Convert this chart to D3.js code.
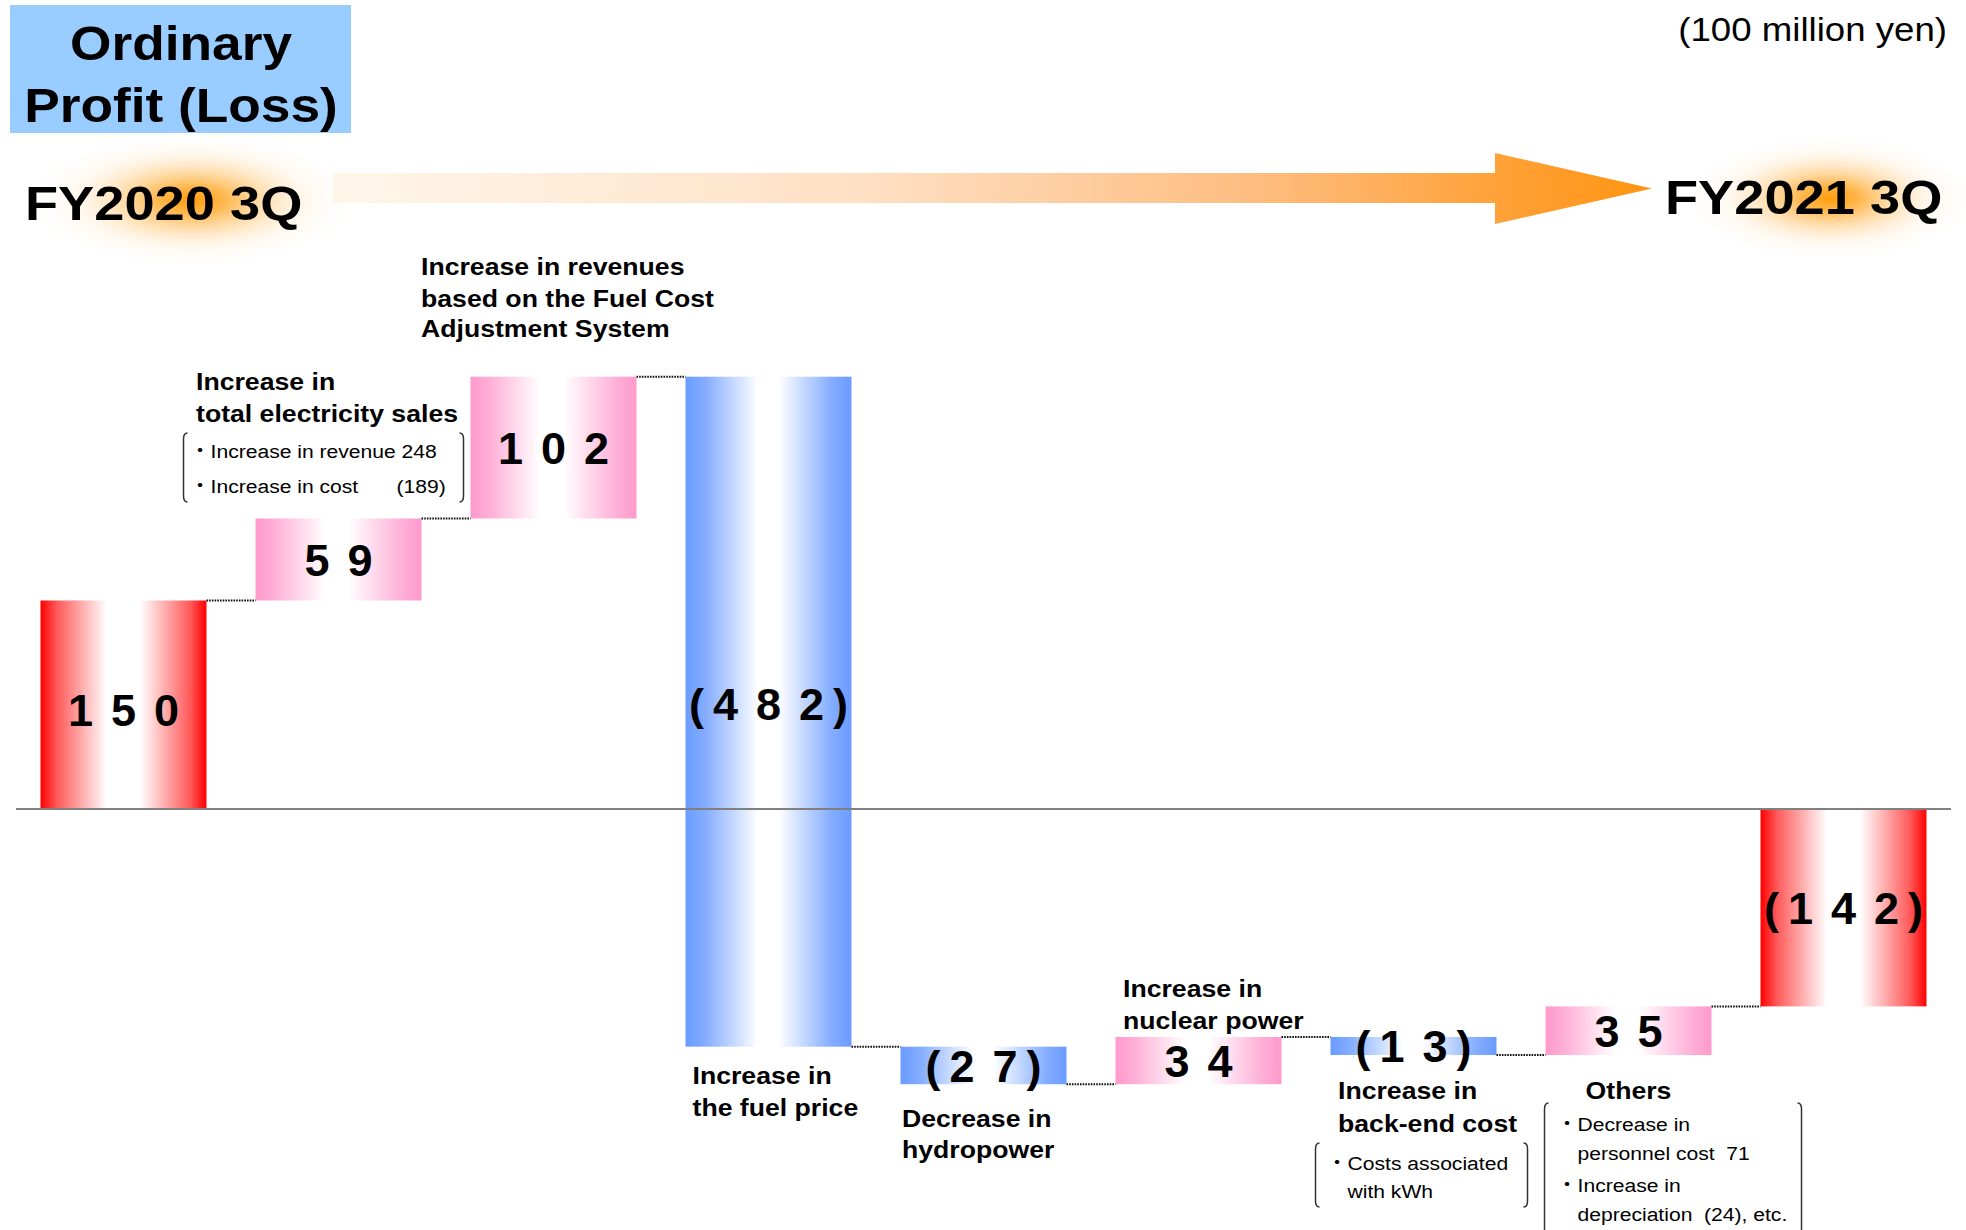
<!DOCTYPE html>
<html><head><meta charset="utf-8">
<script src="https://cdn.jsdelivr.net/npm/d3@7"></script>
<style>
html,body{margin:0;padding:0;background:#fff;}
svg{display:block;}
text{font-family:"Liberation Sans",Arial,"Noto Sans CJK JP",sans-serif;fill:#000;}
</style></head><body>
<svg id="chart" width="1966" height="1230"></svg>
<script>
// ---------------- data ----------------
const titleLines = ["Ordinary", "Profit (Loss)"];
const unitLabel = "(100 million yen)";
const startPeriod = "FY2020 3Q";
const endPeriod = "FY2021 3Q";
const categories = ["FY2020 3Q", "Total electricity sales", "Fuel Cost Adjustment System", "Fuel price", "Hydropower", "Nuclear power", "Back-end cost", "Others", "FY2021 3Q"];
const values = [150, 59, 102, -482, -27, 34, -13, 35, -142];
const barKinds = ["total", "increase", "increase", "decrease", "decrease", "increase", "decrease", "increase", "total"];
const categoryLabels = [
  [],
  ["Increase in", "total electricity sales"],
  ["Increase in revenues", "based on the Fuel Cost", "Adjustment System"],
  ["Increase in", "the fuel price"],
  ["Decrease in", "hydropower"],
  ["Increase in", "nuclear power"],
  ["Increase in", "back-end cost"],
  ["Others"],
  []
];
const salesNotes = ["・Increase in revenue 248", "・Increase in cost", "(189)"];
const backEndNotes = ["・Costs associated", "with kWh"];
const othersNotes = ["・Decrease in", "personnel cost  71", "・Increase in", "depreciation  (24), etc."];

// ---------------- layout ----------------
const W = 1966, H = 1230, SX = 1.11;
const svg = d3.select("#chart");
const defs = svg.append("defs");

const x = d3.scaleBand().domain(categories).range([16, 1951]).paddingInner(0.228).paddingOuter(0.114);
const y = d3.scaleLinear().domain([0, 150]).range([809, 600.5]);

// compute waterfall extents
let cum = 0;
const bars = values.map((v, i) => {
  let start, end;
  if (barKinds[i] === "total") { start = 0; end = v; cum = v; }
  else { start = cum; end = cum + v; cum = end; }
  return { cat: categories[i], v, kind: barKinds[i], start, end, cum, i };
});

// gradients
function hGrad(id, stops) {
  const g = defs.append("linearGradient").attr("id", id).attr("x1", 0).attr("x2", 1).attr("y1", 0).attr("y2", 0);
  stops.forEach(s => g.append("stop").attr("offset", s[0]).attr("stop-color", s[1]));
}
hGrad("gTotal", [[0, "#FF0000"], [0.1, "#FF5A5A"], [0.4, "#FFFFFF"], [0.6, "#FFFFFF"], [0.9, "#FF5A5A"], [1, "#FF0000"]]);
hGrad("gInc", [[0, "#FF99CC"], [0.12, "#FFB0D7"], [0.42, "#FFFFFF"], [0.56, "#FFFFFF"], [0.88, "#FFB0D7"], [1, "#FF99CC"]]);
hGrad("gDec", [[0, "#6A9BFF"], [0.12, "#84ADFF"], [0.44, "#FFFFFF"], [0.56, "#FFFFFF"], [0.88, "#84ADFF"], [1, "#6A9BFF"]]);
const fillFor = { total: "url(#gTotal)", increase: "url(#gInc)", decrease: "url(#gDec)" };

const arrowGrad = defs.append("linearGradient").attr("id", "gArrow").attr("gradientUnits", "userSpaceOnUse")
  .attr("x1", 333).attr("x2", 1652).attr("y1", 0).attr("y2", 0);
[[0, "#FFF6EA"], [0.4, "#FEE0C4"], [0.7, "#FEBD80"], [0.88, "#FFA23A"], [1, "#FF9410"]]
  .forEach(s => arrowGrad.append("stop").attr("offset", s[0]).attr("stop-color", s[1]));

const glow = defs.append("radialGradient").attr("id", "gGlow");
[[0, "#FF9900", 0.95], [0.18, "#FFA21A", 0.8], [0.42, "#FFB850", 0.45], [0.68, "#FFDAA8", 0.18], [1, "#FFFFFF", 0]]
  .forEach(s => glow.append("stop").attr("offset", s[0]).attr("stop-color", s[1]).attr("stop-opacity", s[2]));

// text helper (horizontally stretched, real text)
function txt(str, tx, ty, size, weight, anchor, sx) {
  return svg.append("text")
    .attr("transform", `translate(${tx},${ty}) scale(${sx === undefined ? SX : sx},1)`)
    .attr("text-anchor", anchor || "start")
    .style("font-size", size + "px")
    .style("font-weight", weight || "normal")
    .style("white-space", "pre")
    .text(str);
}

// ---------------- header ----------------
svg.append("rect").attr("x", 10).attr("y", 5).attr("width", 341).attr("height", 128).attr("fill", "#99CCFF");
txt(titleLines[0], 181, 60, 48, "bold", "middle");
txt(titleLines[1], 181, 122, 48, "bold", "middle");
txt(unitLabel, 1947, 41, 33, "normal", "end");

svg.append("ellipse").attr("cx", 192).attr("cy", 200).attr("rx", 170).attr("ry", 70).attr("fill", "url(#gGlow)");
svg.append("ellipse").attr("cx", 1830).attr("cy", 198).attr("rx", 150).attr("ry", 66).attr("fill", "url(#gGlow)");
svg.append("path").attr("d", "M333,173 L1495,173 L1495,153 L1652,188.5 L1495,224 L1495,203 L333,203 Z").attr("fill", "url(#gArrow)");
txt(startPeriod, 25, 220, 48, "bold", "start", 1.13);
txt(endPeriod, 1665, 214, 48, "bold", "start", 1.13);

// ---------------- bars ----------------
const bw = x.bandwidth();
svg.append("g").selectAll("rect").data(bars).join("rect")
  .attr("x", d => x(d.cat))
  .attr("y", d => y(Math.max(d.start, d.end)))
  .attr("width", bw)
  .attr("height", d => Math.abs(y(d.start) - y(d.end)))
  .attr("fill", d => fillFor[d.kind]);

// connectors
svg.append("g").selectAll("line").data(bars.slice(0, -1)).join("line")
  .attr("x1", d => x(d.cat) + bw)
  .attr("x2", d => x(categories[d.i + 1]))
  .attr("y1", d => y(d.cum)).attr("y2", d => y(d.cum))
  .attr("stroke", "#111").attr("stroke-width", 2).attr("stroke-dasharray", "1.6,1.1");

// zero line
svg.append("line").attr("x1", x.range()[0]).attr("x2", x.range()[1]).attr("y1", y(0)).attr("y2", y(0))
  .attr("stroke", "#808080").attr("stroke-width", 2);

// value labels: digits spaced wide, parentheses closer
const DIG_GAP = 18, PAR_GAP = 9;
const labelNudge = { 0: 5, 3: -8 };
const fmt = v => v < 0 ? "(" + Math.abs(v) + ")" : String(v);
bars.forEach(d => {
  const s = fmt(d.v);
  const t = svg.append("text")
    .attr("y", (y(d.start) + y(d.end)) / 2 + (labelNudge[d.i] || 0))
    .attr("dy", "0.36em")
    .style("font-size", "45px").style("font-weight", "bold");
  s.split("").forEach((ch, k) => {
    let gap = 0;
    if (k > 0) {
      const prev = s[k - 1];
      gap = (prev === "(" || ch === ")") ? PAR_GAP : DIG_GAP;
    }
    t.append("tspan").attr("dx", gap).text(ch);
  });
  const w = t.node().getBBox().width;
  t.attr("x", x(d.cat) + bw / 2 - w / 2);
});

// ---------------- category annotations ----------------
const labelLayout = {
  1: { dx: -59.5, ys: [390, 422] },
  2: { dx: -49.5, ys: [275, 307, 337] },
  3: { dx: 7, ys: [1084, 1116] },
  4: { dx: 1.5, ys: [1127, 1158] },
  5: { dx: 7.5, ys: [997, 1029] },
  6: { dx: 7.5, ys: [1099, 1132] },
  7: { center: true, ys: [1099] }
};
categoryLabels.forEach((lines, i) => {
  const L = labelLayout[i];
  if (!L) return;
  lines.forEach((s, k) => {
    if (L.center) txt(s, x(categories[i]) + bw / 2, L.ys[k], 24, "bold", "middle");
    else txt(s, x(categories[i]) + L.dx, L.ys[k], 24, "bold", "start");
  });
});

function bracket(xl, xr, yt, yb) {
  const c = 6;
  const p = `M${xl + 4},${yt} Q${xl},${yt} ${xl},${yt + c} L${xl},${yb - c} Q${xl},${yb} ${xl + 4},${yb}` +
    ` M${xr - 4},${yt} Q${xr},${yt} ${xr},${yt + c} L${xr},${yb - c} Q${xr},${yb} ${xr - 4},${yb}`;
  svg.append("path").attr("d", p).attr("fill", "none").attr("stroke", "#333").attr("stroke-width", 1.5);
}

// sales breakdown
{
  const b = x(categories[1]);
  bracket(b - 72, b + 208, 433, 502);
  txt(salesNotes[0], b - 66, 458, 19, "normal", "start");
  txt(salesNotes[1], b - 66, 493, 19, "normal", "start");
  txt(salesNotes[2], b + 141, 493, 19, "normal", "start");
}
// back-end notes
{
  const b = x(categories[6]);
  bracket(b - 15, b + 197, 1143, 1207);
  txt(backEndNotes[0], b - 4, 1170, 19, "normal", "start");
  txt(backEndNotes[1], b + 17, 1198, 19, "normal", "start");
}
// others notes
{
  const b = x(categories[7]);
  bracket(b - 1, b + 256, 1103, 1245);
  txt(othersNotes[0], b + 11, 1131, 19, "normal", "start");
  txt(othersNotes[1], b + 32, 1160, 19, "normal", "start");
  txt(othersNotes[2], b + 11, 1192, 19, "normal", "start");
  txt(othersNotes[3], b + 32, 1221, 19, "normal", "start");
}
</script>
</body></html>
